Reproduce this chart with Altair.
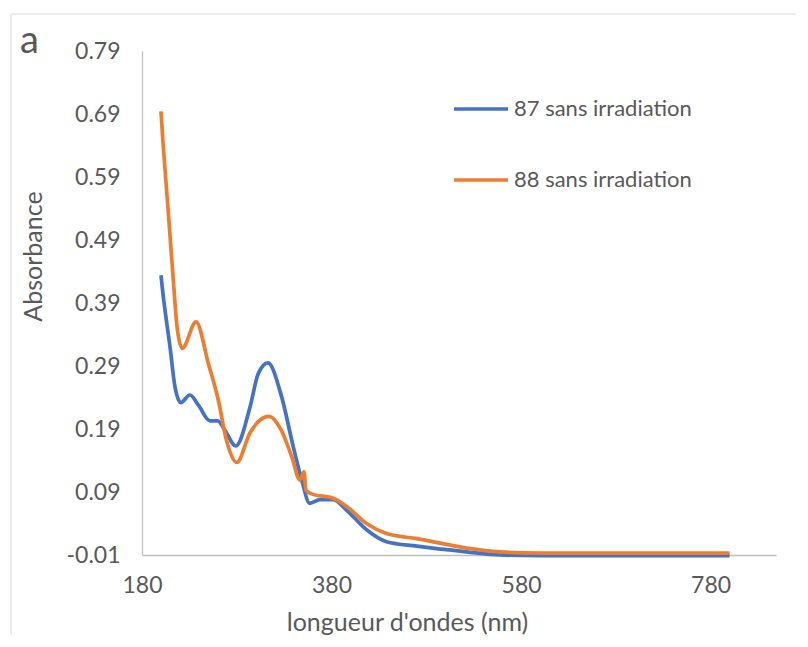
import altair as alt
import pandas as pd

# Series 87 sans irradiation (blue)
wl_87 = [200, 202.5, 209.5, 214.8, 221, 230.6, 239.5, 251.7, 260, 267.5, 279, 294, 302.7, 313,
         327, 339.6, 348.5, 357, 367.8, 381.8, 396, 417, 438, 470, 522.5, 557.6, 600, 700, 800]
ab_87 = [0.434, 0.40, 0.321, 0.257, 0.232, 0.244, 0.228, 0.203, 0.203, 0.188, 0.163, 0.225, 0.278, 0.295,
         0.243, 0.162, 0.109, 0.072, 0.078, 0.078, 0.061, 0.030, 0.011, 0.004, -0.005, -0.010, -0.011, -0.011, -0.011]

# Series 88 sans irradiation (orange)
wl_88 = [200, 202.5, 207.8, 213, 217, 222.5, 237, 250, 260.5, 269, 280, 294, 304.5, 314,
         327, 338, 346.7, 351, 353, 359, 381.8, 396, 417, 438, 470, 522.5, 557.6, 600, 700, 800]
ab_88 = [0.694, 0.638, 0.533, 0.427, 0.352, 0.318, 0.360, 0.294, 0.236, 0.173, 0.137, 0.184, 0.204, 0.210,
         0.188, 0.146, 0.109, 0.122, 0.093, 0.087, 0.080, 0.067, 0.040, 0.024, 0.016, 0.001, -0.005, -0.007, -0.007, -0.007]

series_names = ["87 sans irradiation", "88 sans irradiation"]
series_colors = ["#4472C4", "#ED7D31"]
y_ticks = [-0.01, 0.09, 0.19, 0.29, 0.39, 0.49, 0.59, 0.69, 0.79]
x_ticks = [180, 380, 580, 780]

df = pd.concat([
    pd.DataFrame({"wl": wl_87, "ab": ab_87, "serie": series_names[0]}),
    pd.DataFrame({"wl": wl_88, "ab": ab_88, "serie": series_names[1]}),
])

FONT = "Lato"
GREY = "#595959"

frame = alt.Chart(pd.DataFrame({"k": [0]})).mark_rect(
    fillOpacity=0, stroke="#D9D9D9", strokeWidth=1
).encode(
    x=alt.value(-131), x2=alt.value(658), y=alt.value(-37), y2=alt.value(620)
)

lines = alt.Chart(df).mark_line(strokeWidth=3.7, interpolate="monotone").encode(
    x=alt.X("wl:Q",
            scale=alt.Scale(domain=[180, 849], nice=False, zero=False),
            axis=alt.Axis(values=x_ticks, title="longueur d'ondes (nm)", grid=False,
                          ticks=False, labelPadding=19,
                          titleX=265, titleY=67, titleBaseline="middle", titleAlign="center",
                          domainColor="#BFBFBF", domainWidth=1.3)),
    y=alt.Y("ab:Q",
            scale=alt.Scale(domain=[-0.01, 0.79], nice=False, zero=False),
            axis=alt.Axis(values=y_ticks, title="Absorbance", grid=False,
                          labelExpr="replace(format(datum.value, '.2f'), '\u2212', '-')",
                          ticks=False, labelPadding=22,
                          titleX=-109, titleY=205, titleBaseline="middle", titleAlign="center",
                          domainColor="#BFBFBF", domainWidth=1.3)),
    color=alt.Color("serie:N",
                    scale=alt.Scale(domain=series_names, range=series_colors),
                    legend=alt.Legend(title=None, orient="none", legendX=310, legendY=29,
                                      symbolType="stroke", symbolSize=2916, symbolStrokeWidth=3.5,
                                      labelFontSize=22, labelColor=GREY, labelFont=FONT,
                                      labelLimit=400, rowPadding=31, labelOffset=4)),
    order=alt.Order("wl:Q"),
)

chart = alt.layer(frame, lines).properties(
    width=634, height=504, autosize="none",
    padding={"left": 134, "top": 43, "right": 20, "bottom": 80},
    title=alt.TitleParams("a", anchor="start", frame="group", fontSize=38, font=FONT, color=GREY,
                          fontWeight="normal", dx=-122, dy=51),
).configure_axis(
    labelFont=FONT, labelFontSize=23, labelColor=GREY, labelFlush=False,
    titleFont=FONT, titleFontSize=25, titleColor=GREY, titleFontWeight="normal",
).configure_view(stroke=None)

chart.save("out.html", embed_options={"renderer": "svg", "actions": False})
